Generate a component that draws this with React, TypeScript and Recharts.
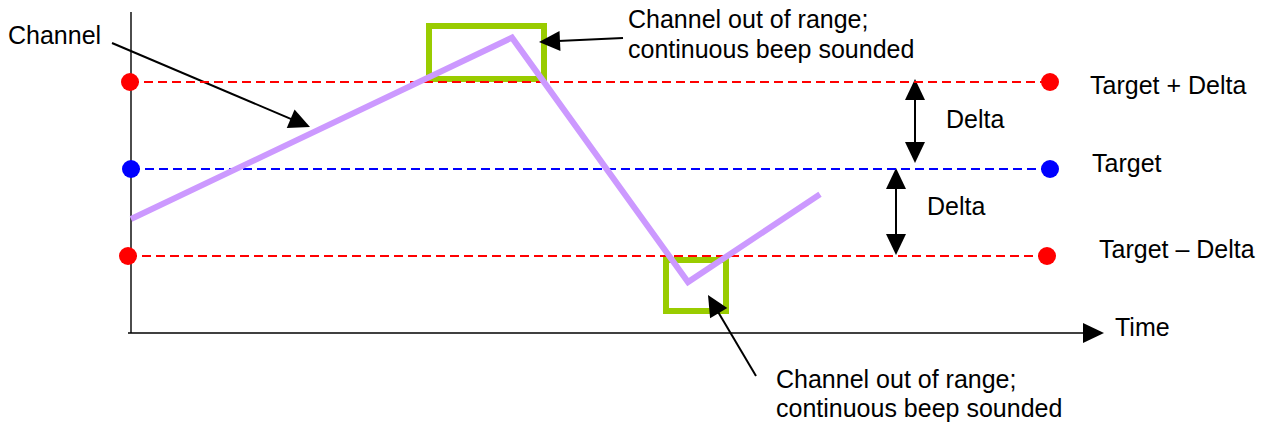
import React from 'react';
import { LineChart, Line, XAxis, YAxis, ReferenceLine, ReferenceArea, ReferenceDot } from 'recharts';

// Time axis in arbitrary time units, level axis: Target = 0, Delta = 1
const channelTime = [0, 38.1, 55.7, 68.9];
const channelLevel = [-0.575, 1.51, -1.3, -0.29];

const bandNames = ['Target + Delta', 'Target', 'Target – Delta'];
const bandLevels = [1, 0, -1];
const bandStart = [-0.1, 0, -0.3];
const bandEnd = [91.9, 91.9, 91.6];
const bandColors = ['#ff0000', '#0000ff', '#ff0000'];

const alarmStart = [29.8, 53.5];
const alarmEnd = [41.3, 59.5];
const alarmLow = [1.034, -1.632];
const alarmHigh = [1.644, -1.046];

const labelTexts = [
  'Channel',
  'Channel out of range;',
  'continuous beep sounded',
  'Channel out of range;',
  'continuous beep sounded',
  'Delta',
  'Delta',
  bandNames[0],
  bandNames[1],
  bandNames[2],
  'Time',
];
const labelTime = [-12.3, 49.7, 49.7, 64.5, 64.5, 81.5, 79.6, 95.9, 96.1, 96.8, 98.4];
const labelLevel = [1.437, 1.621, 1.276, -2.517, -2.851, 0.471, -0.529, 0.862, -0.034, -1.023, -1.92];

// arrows: from (t1,v1) to (t2,v2); heads: 0 none, 1 end, 2 both
const arrowT1 = [-1.9, 49.2, 62.5, 78.4, 76.5, -0.3, 0];
const arrowV1 = [1.448, 1.506, -2.379, 1.034, 0.011, -1.885, 1.805];
const arrowT2 = [17.9, 40.8, 57.7, 78.4, 76.5, 97.3, 0];
const arrowV2 = [0.483, 1.46, -1.448, 0.069, -0.989, -1.885, -1.885];
const arrowHeads = [1, 1, 1, 2, 2, 1, 0];

const T_DOMAIN: [number, number] = [-13.1, 113.8];
const V_DOMAIN: [number, number] = [(169 - 426) / 87, 169 / 87];

const channelData = channelTime.map((t, i) => ({ t, v: channelLevel[i] }));
const bandData = bandLevels.map((v, i) => [
  { t: bandStart[i], v },
  { t: bandEnd[i], v },
]);

const FONT = 'Liberation Sans, Arial, Helvetica, sans-serif';

function Arrow(props: any) {
  const { x1, y1, x2, y2, heads, strokeW } = props;
  const dx = x2 - x1;
  const dy = y2 - y1;
  const L = Math.hypot(dx, dy) || 1;
  const ux = dx / L;
  const uy = dy / L;
  const nx = -uy;
  const ny = ux;
  const len = 21;
  const half = 10;
  const head = (tx: number, ty: number, sx: number, sy: number) => {
    const bx = tx - sx * len;
    const by = ty - sy * len;
    return `${tx},${ty} ${bx + nx * half},${by + ny * half} ${bx - nx * half},${by - ny * half}`;
  };
  const lx1 = heads === 2 ? x1 + ux * (len - 2) : x1;
  const ly1 = heads === 2 ? y1 + uy * (len - 2) : y1;
  const lx2 = heads >= 1 ? x2 - ux * (len - 2) : x2;
  const ly2 = heads >= 1 ? y2 - uy * (len - 2) : y2;
  return (
    <g>
      <line x1={lx1} y1={ly1} x2={lx2} y2={ly2} stroke="#000" strokeWidth={strokeW} />
      {heads >= 1 && <polygon points={head(x2, y2, ux, uy)} fill="#000" />}
      {heads === 2 && <polygon points={head(x1, y1, -ux, -uy)} fill="#000" />}
    </g>
  );
}

export default function App() {
  return (
    <div style={{ position: 'absolute', left: 0, top: 0, background: '#fff' }}>
      <LineChart width={1269} height={426} margin={{ top: 0, right: 0, bottom: 0, left: 0 }}>
        <XAxis type="number" dataKey="t" domain={T_DOMAIN} hide allowDataOverflow />
        <YAxis type="number" dataKey="v" domain={V_DOMAIN} hide allowDataOverflow />

        {arrowT1.map((t1, i) => (
          <ReferenceLine
            key={'ax' + i}
            ifOverflow="visible"
            segment={[
              { x: t1, y: arrowV1[i] },
              { x: arrowT2[i], y: arrowV2[i] },
            ]}
            shape={(p: any) => (
              <Arrow {...p} heads={arrowHeads[i]} strokeW={i >= 5 ? 1.4 : 2} />
            )}
          />
        ))}

        {bandData.map((d, i) => (
          <Line
            key={'band' + i}
            data={d}
            dataKey="v"
            stroke={bandColors[i]}
            strokeWidth={1.8}
            strokeDasharray="9 5"
            dot={{ r: 9, fill: bandColors[i], stroke: 'none' }}
            activeDot={false}
            isAnimationActive={false}
            legendType="none"
          />
        ))}

        <Line
          data={channelData}
          dataKey="v"
          stroke="#cc99ff"
          strokeWidth={6}
          strokeLinejoin="miter"
          dot={false}
          activeDot={false}
          isAnimationActive={false}
          legendType="none"
        />

        {alarmStart.map((t, i) => (
          <ReferenceArea
            key={'alarm' + i}
            x1={t}
            x2={alarmEnd[i]}
            y1={alarmLow[i]}
            y2={alarmHigh[i]}
            fill="none"
            fillOpacity={0}
            stroke="#99cc00"
            strokeWidth={6}
            strokeOpacity={1}
            ifOverflow="visible"
          />
        ))}

        {labelTexts.map((txt, i) => (
          <ReferenceDot
            key={'lbl' + i}
            x={labelTime[i]}
            y={labelLevel[i]}
            r={0}
            ifOverflow="visible"
            shape={(p: any) => (
              <text x={p.cx} y={p.cy} fontFamily={FONT} fontSize={25} fill="#000" textAnchor="start">
                {txt}
              </text>
            )}
          />
        ))}
      </LineChart>
    </div>
  );
}
